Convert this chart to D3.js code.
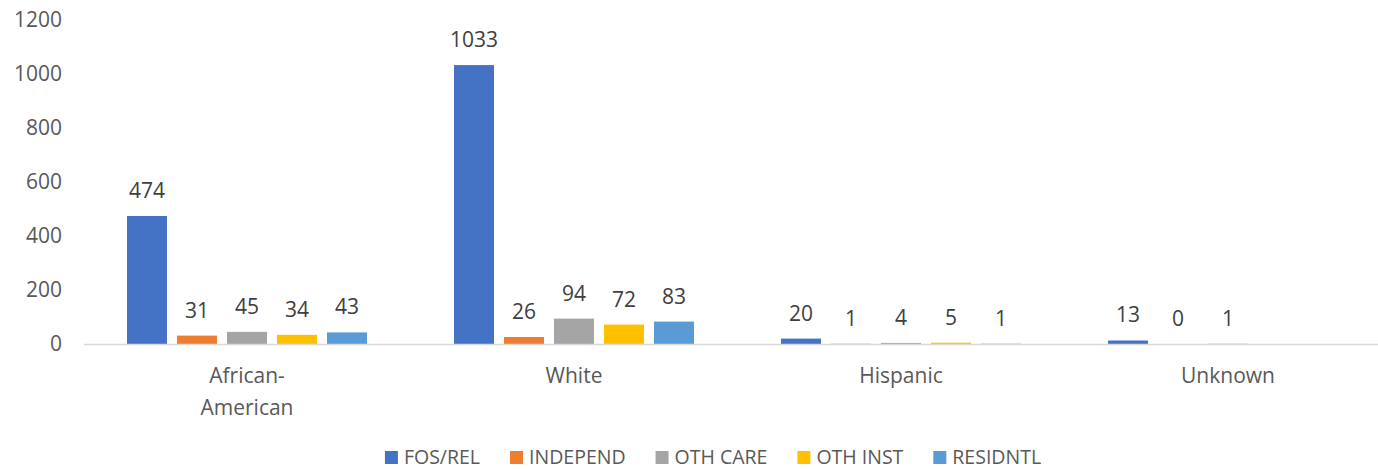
<!DOCTYPE html>
<html>
<head>
<meta charset="utf-8">
<script src="https://cdn.jsdelivr.net/npm/d3@7"></script>
<style>
  html, body { margin: 0; padding: 0; background: #fff; }
  svg { display: block; font-family: "Open Sans", sans-serif; }
</style>
</head>
<body>
<svg id="chart" width="1378" height="469"></svg>
<script>
const categories = ["African-American", "White", "Hispanic", "Unknown"];
const seriesNames = ["FOS/REL", "INDEPEND", "OTH CARE", "OTH INST", "RESIDNTL"];
const seriesColors = ["#4472C4", "#ED7D31", "#A5A5A5", "#FFC000", "#5B9BD5"];
const fosRel   = [474, 1033, 20, 13];
const independ = [31, 26, 1, 0];
const othCare  = [45, 94, 4, 1];
const othInst  = [34, 72, 5, null];
const residntl = [43, 83, 1, null];
const yTicks = [0, 200, 400, 600, 800, 1000, 1200];

const seriesValues = [fosRel, independ, othCare, othInst, residntl];

const svg = d3.select("#chart");
const plotLeft = 83.5, plotRight = 1391.5, plotTop = 20, plotBottom = 344;

const x = d3.scaleBand().domain(categories).range([plotLeft, plotRight]).paddingInner(0).paddingOuter(0);
const xs = d3.scaleBand().domain(seriesNames).range([0, x.bandwidth()]).paddingInner(0.2).paddingOuter(0.87);
const y = d3.scaleLinear().domain([0, 1200]).range([plotBottom, plotTop]);

// Y axis labels
const yAxis = svg.append("g")
  .attr("transform", `translate(${plotLeft},0)`)
  .call(d3.axisLeft(y).tickValues(yTicks).tickSize(0).tickPadding(21.5).tickFormat(d3.format("d")));
yAxis.select(".domain").remove();
yAxis.selectAll("text")
  .attr("fill", "#595959")
  .style("font-size", "21px")
  .style("font-family", "'Open Sans', sans-serif");

// Bars
const data = [];
categories.forEach((c, i) => {
  seriesNames.forEach((s, j) => {
    const v = seriesValues[j][i];
    if (v !== null && v !== undefined) data.push({ cat: c, series: s, value: v, color: seriesColors[j] });
  });
});

svg.append("g").selectAll("rect")
  .data(data)
  .join("rect")
  .attr("x", d => x(d.cat) + xs(d.series))
  .attr("width", xs.bandwidth())
  .attr("y", d => y(d.value))
  .attr("height", d => plotBottom - y(d.value))
  .attr("fill", d => d.color);

// Data labels
svg.append("g").selectAll("text")
  .data(data)
  .join("text")
  .attr("x", d => x(d.cat) + xs(d.series) + xs.bandwidth() / 2)
  .attr("y", d => y(d.value) - 18)
  .attr("text-anchor", "middle")
  .attr("fill", "#404040")
  .style("font-size", "21px")
  .text(d => d.value);

// X axis
const xAxis = svg.append("g")
  .attr("transform", `translate(0,${plotBottom})`)
  .call(d3.axisBottom(x).tickSize(0).tickFormat(""));
xAxis.select(".domain")
  .attr("stroke", "#d9d9d9")
  .attr("stroke-width", 1.5);
xAxis.selectAll(".tick").each(function(d) {
  const g = d3.select(this);
  g.select("text").remove();
  const parts = d.includes("-") ? [d.slice(0, d.indexOf("-") + 1), d.slice(d.indexOf("-") + 1)] : [d];
  const t = g.append("text")
    .attr("text-anchor", "middle")
    .attr("fill", "#595959")
    .style("font-size", "21px")
    .style("font-family", "'Open Sans', sans-serif");
  parts.forEach((p, k) => {
    t.append("tspan").attr("x", 0).attr("y", 39 + k * 31.5).text(p);
  });
});

// Legend
const legend = svg.append("g");
const items = legend.selectAll("g")
  .data(seriesNames)
  .join("g");
items.append("rect")
  .attr("width", 13).attr("height", 13)
  .attr("y", -6.5)
  .attr("fill", (d, i) => seriesColors[i]);
items.append("text")
  .attr("x", 19)
  .attr("y", 6)
  .attr("fill", "#595959")
  .style("font-size", "19.5px")
  .text(d => d);
let cx = 0;
const offsets = [];
items.each(function() {
  const tw = d3.select(this).select("text").node().getComputedTextLength();
  offsets.push(cx);
  cx += 19 + tw + 30;
});
const totalW = cx - 30;
const startX = 713 - totalW / 2;
items.attr("transform", (d, i) => `translate(${startX + offsets[i]},457.5)`);
</script>
</body>
</html>
